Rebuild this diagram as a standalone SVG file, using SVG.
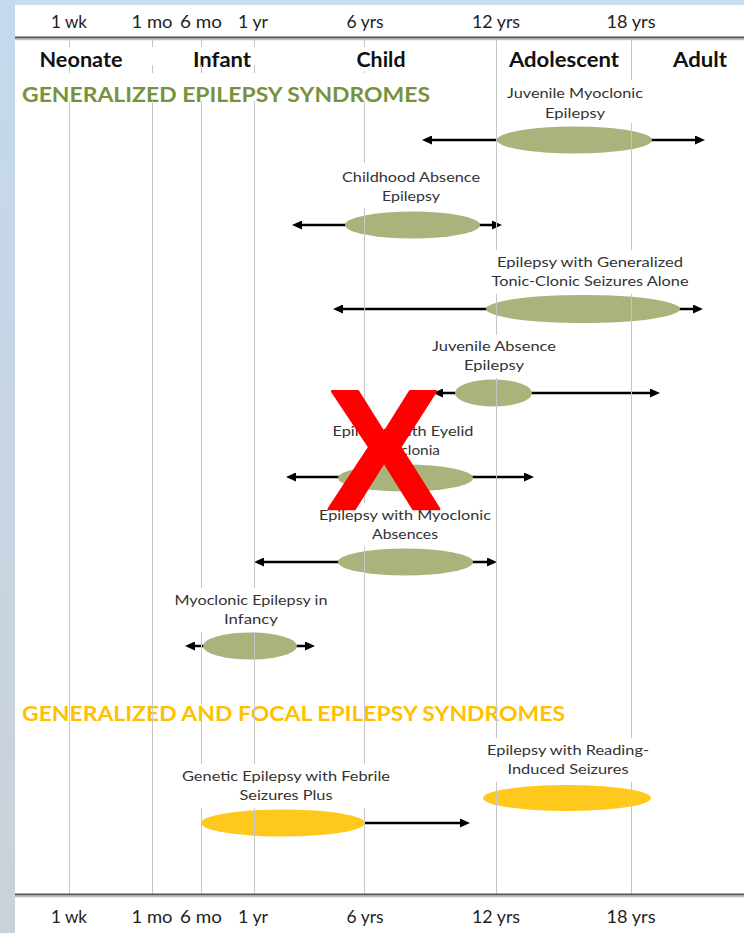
<svg xmlns="http://www.w3.org/2000/svg" width="744" height="933" viewBox="0 0 744 933">
  <defs>
    <linearGradient id="edge" x1="0" y1="0" x2="0" y2="1">
      <stop offset="0" stop-color="#c4d9ee"/>
      <stop offset="1" stop-color="#cbd1d8"/>
    </linearGradient>
    <marker id="head" viewBox="0 0 10 9" refX="5" refY="4.5" markerWidth="10" markerHeight="9" markerUnits="userSpaceOnUse" orient="auto-start-reverse">
      <path d="M0,0 L10,4.5 L0,9 z" fill="#000"/>
    </marker>
    <!-- label boxes hide the age gridlines behind the text -->
    <mask id="gridMask" maskUnits="userSpaceOnUse" x="0" y="0" width="744" height="933">
      <rect x="0" y="0" width="744" height="933" fill="#fff"/>
      <g fill="#000">
        <rect x="30" y="47" width="100" height="18"/>
        <rect x="140" y="47" width="125" height="18"/>
        <rect x="340" y="47" width="80" height="24"/>
        <rect x="18" y="73" width="417" height="28"/>
        <rect x="500" y="80" width="150" height="43"/>
        <rect x="338" y="163" width="147" height="45"/>
        <rect x="488" y="250" width="204" height="44"/>
        <rect x="428" y="335" width="132" height="43"/>
        <rect x="328" y="418" width="150" height="44"/>
        <rect x="315" y="503" width="179" height="44"/>
        <rect x="170" y="588" width="163" height="44"/>
        <rect x="178" y="764" width="216" height="44"/>
        <rect x="483" y="738" width="170" height="44"/>
      </g>
    </mask>
  </defs>
  <style>
    .grid { stroke: #c6c6c6; stroke-width: 1; fill: none; }
    .tick { font-family: Lato, "Liberation Sans", sans-serif; font-size: 16.5px; fill: #1e1e1e; text-anchor: middle; }
    .age { font-family: Lato, "Liberation Sans", sans-serif; font-weight: bold; font-size: 20px; fill: #111; text-anchor: middle; }
    .head { font-family: Lato, "Liberation Sans", sans-serif; font-weight: bold; font-size: 21px; }
    .lbl { font-family: Lato, "Liberation Sans", sans-serif; font-size: 14px; fill: #333; text-anchor: middle; }
    .gen { fill: #a9b47d; }
    .foc { fill: #ffc81d; }
    .conn { stroke: #000; stroke-width: 2.5; fill: none; }
  </style>

  <!-- page background -->
  <rect x="0" y="0" width="744" height="933" fill="#fff"/>
  <rect x="0" y="0" width="744" height="5" fill="#c8dcef"/>
  <rect x="0" y="0" width="15" height="933" fill="url(#edge)"/>

  <!-- age axis (top) -->
  <g id="axis-top">
    <text class="tick" x="69" y="28" textLength="36" lengthAdjust="spacingAndGlyphs">1 wk</text>
    <text class="tick" x="152" y="28" textLength="41" lengthAdjust="spacingAndGlyphs">1 mo</text>
    <text class="tick" x="201" y="28" textLength="42" lengthAdjust="spacingAndGlyphs">6 mo</text>
    <text class="tick" x="253" y="28" textLength="30" lengthAdjust="spacingAndGlyphs">1 yr</text>
    <text class="tick" x="365" y="28" textLength="37" lengthAdjust="spacingAndGlyphs">6 yrs</text>
    <text class="tick" x="496" y="28" textLength="48" lengthAdjust="spacingAndGlyphs">12 yrs</text>
    <text class="tick" x="631" y="28" textLength="49" lengthAdjust="spacingAndGlyphs">18 yrs</text>
    <line x1="15" y1="37.5" x2="744" y2="37.5" stroke="#555" stroke-width="2"/>
    <line x1="15" y1="39.5" x2="744" y2="39.5" stroke="#bdbdbd" stroke-width="1.5"/>
  </g>

  <!-- age groups -->
  <g id="age-groups">
    <text class="age" x="81" y="67" textLength="83" lengthAdjust="spacingAndGlyphs">Neonate</text>
    <text class="age" x="222" y="67" textLength="58" lengthAdjust="spacingAndGlyphs">Infant</text>
    <text class="age" x="381" y="67" textLength="49" lengthAdjust="spacingAndGlyphs">Child</text>
    <text class="age" x="564" y="67" textLength="110" lengthAdjust="spacingAndGlyphs">Adolescent</text>
    <text class="age" x="700" y="67" textLength="54" lengthAdjust="spacingAndGlyphs">Adult</text>
  </g>

  <!-- section headings -->
  <text class="head" x="22" y="102" fill="#77923c" textLength="408" lengthAdjust="spacingAndGlyphs">GENERALIZED EPILEPSY SYNDROMES</text>
  <text class="head" x="22" y="721" fill="#ffc000" textLength="543" lengthAdjust="spacingAndGlyphs">GENERALIZED AND FOCAL EPILEPSY SYNDROMES</text>

  <!-- age-range connectors -->
  <g id="connectors">
    <line class="conn" x1="427" y1="140" x2="700" y2="140" marker-start="url(#head)" marker-end="url(#head)"/>
    <line class="conn" x1="297" y1="225" x2="497" y2="225" marker-start="url(#head)" marker-end="url(#head)"/>
    <line class="conn" x1="338" y1="309" x2="698" y2="309" marker-start="url(#head)" marker-end="url(#head)"/>
    <line class="conn" x1="438" y1="393" x2="655" y2="393" marker-start="url(#head)" marker-end="url(#head)"/>
    <line class="conn" x1="291" y1="477" x2="529" y2="477" marker-start="url(#head)" marker-end="url(#head)"/>
    <line class="conn" x1="259" y1="562" x2="492" y2="562" marker-start="url(#head)" marker-end="url(#head)"/>
    <line class="conn" x1="190" y1="646" x2="310" y2="646" marker-start="url(#head)" marker-end="url(#head)"/>
    <line class="conn" x1="365" y1="823" x2="465" y2="823" marker-end="url(#head)"/>
  </g>

  <!-- syndromes: peak age ranges -->
  <g id="jme">
    <ellipse class="gen" cx="574.5" cy="140" rx="77.5" ry="13.5"/>
  </g>
  <g id="cae">
    <ellipse class="gen" cx="412.5" cy="225" rx="67.5" ry="13.5"/>
  </g>
  <g id="egtcs">
    <ellipse class="gen" cx="583" cy="309" rx="97" ry="14"/>
  </g>
  <g id="jae">
    <ellipse class="gen" cx="493.5" cy="393" rx="38.5" ry="13.5"/>
  </g>
  <g id="eem">
    <ellipse class="gen" cx="405.5" cy="478" rx="67.5" ry="13.5"/>
  </g>
  <g id="ema">
    <ellipse class="gen" cx="405.5" cy="562" rx="67.5" ry="13.5"/>
  </g>
  <g id="mei">
    <ellipse class="gen" cx="250" cy="646" rx="47" ry="13.5"/>
  </g>
  <g id="gefs">
    <ellipse class="foc" cx="283" cy="823" rx="82" ry="13.5"/>
  </g>
  <g id="eris">
    <ellipse class="foc" cx="567" cy="798" rx="84" ry="13"/>
  </g>

  <!-- age gridlines -->
  <g id="gridlines" class="grid" mask="url(#gridMask)">
    <line x1="69.5" y1="40" x2="69.5" y2="894"/>
    <line x1="152.5" y1="40" x2="152.5" y2="894"/>
    <line x1="201.5" y1="40" x2="201.5" y2="894"/>
    <line x1="254.5" y1="40" x2="254.5" y2="894"/>
    <line x1="364.5" y1="40" x2="364.5" y2="894"/>
    <line x1="496.5" y1="40" x2="496.5" y2="894"/>
    <line x1="631.5" y1="40" x2="631.5" y2="894"/>
  </g>

  <!-- syndrome labels -->
  <g id="jme-label">
    <text class="lbl" x="575" y="98" textLength="136" lengthAdjust="spacingAndGlyphs">Juvenile Myoclonic</text>
    <text class="lbl" x="575" y="118" textLength="60" lengthAdjust="spacingAndGlyphs">Epilepsy</text>
  </g>
  <g id="cae-label">
    <text class="lbl" x="411" y="182" textLength="138" lengthAdjust="spacingAndGlyphs">Childhood Absence</text>
    <text class="lbl" x="411" y="201" textLength="58" lengthAdjust="spacingAndGlyphs">Epilepsy</text>
  </g>
  <g id="egtcs-label">
    <text class="lbl" x="590" y="267" textLength="186" lengthAdjust="spacingAndGlyphs">Epilepsy with Generalized</text>
    <text class="lbl" x="590" y="286" textLength="197" lengthAdjust="spacingAndGlyphs">Tonic-Clonic Seizures Alone</text>
  </g>
  <g id="jae-label">
    <text class="lbl" x="494" y="351" textLength="124" lengthAdjust="spacingAndGlyphs">Juvenile Absence</text>
    <text class="lbl" x="494" y="370" textLength="60" lengthAdjust="spacingAndGlyphs">Epilepsy</text>
  </g>
  <g id="eem-label">
    <text class="lbl" x="403" y="436" textLength="141" lengthAdjust="spacingAndGlyphs">Epilepsy with Eyelid</text>
    <text class="lbl" x="405" y="455" textLength="70" lengthAdjust="spacingAndGlyphs">Myoclonia</text>
  </g>
  <g id="ema-label">
    <text class="lbl" x="405" y="520" textLength="172" lengthAdjust="spacingAndGlyphs">Epilepsy with Myoclonic</text>
    <text class="lbl" x="405" y="539" textLength="66" lengthAdjust="spacingAndGlyphs">Absences</text>
  </g>
  <g id="mei-label">
    <text class="lbl" x="251" y="605" textLength="153" lengthAdjust="spacingAndGlyphs">Myoclonic Epilepsy in</text>
    <text class="lbl" x="251" y="624" textLength="54" lengthAdjust="spacingAndGlyphs">Infancy</text>
  </g>
  <g id="gefs-label">
    <text class="lbl" x="286" y="781" textLength="208" lengthAdjust="spacingAndGlyphs">Genetic Epilepsy with Febrile</text>
    <text class="lbl" x="286" y="800" textLength="93" lengthAdjust="spacingAndGlyphs">Seizures Plus</text>
  </g>
  <g id="eris-label">
    <text class="lbl" x="568" y="755" textLength="162" lengthAdjust="spacingAndGlyphs">Epilepsy with Reading-</text>
    <text class="lbl" x="568" y="774" textLength="121" lengthAdjust="spacingAndGlyphs">Induced Seizures</text>
  </g>

  <!-- struck-out syndrome mark -->
  <text x="384" y="509" font-family="'Liberation Sans', Arial, sans-serif" font-weight="bold" font-size="170" fill="#ff0000" stroke="#ff0000" stroke-width="2.5" stroke-linejoin="round" text-anchor="middle">X</text>

  <!-- age axis (bottom) -->
  <g id="axis-bottom">
    <line x1="15" y1="894.5" x2="744" y2="894.5" stroke="#555" stroke-width="2"/>
    <line x1="15" y1="896.5" x2="744" y2="896.5" stroke="#bdbdbd" stroke-width="1.5"/>
    <text class="tick" x="69" y="923" textLength="36" lengthAdjust="spacingAndGlyphs">1 wk</text>
    <text class="tick" x="152" y="923" textLength="41" lengthAdjust="spacingAndGlyphs">1 mo</text>
    <text class="tick" x="201" y="923" textLength="42" lengthAdjust="spacingAndGlyphs">6 mo</text>
    <text class="tick" x="253" y="923" textLength="30" lengthAdjust="spacingAndGlyphs">1 yr</text>
    <text class="tick" x="365" y="923" textLength="37" lengthAdjust="spacingAndGlyphs">6 yrs</text>
    <text class="tick" x="496" y="923" textLength="48" lengthAdjust="spacingAndGlyphs">12 yrs</text>
    <text class="tick" x="631" y="923" textLength="49" lengthAdjust="spacingAndGlyphs">18 yrs</text>
  </g>
</svg>
